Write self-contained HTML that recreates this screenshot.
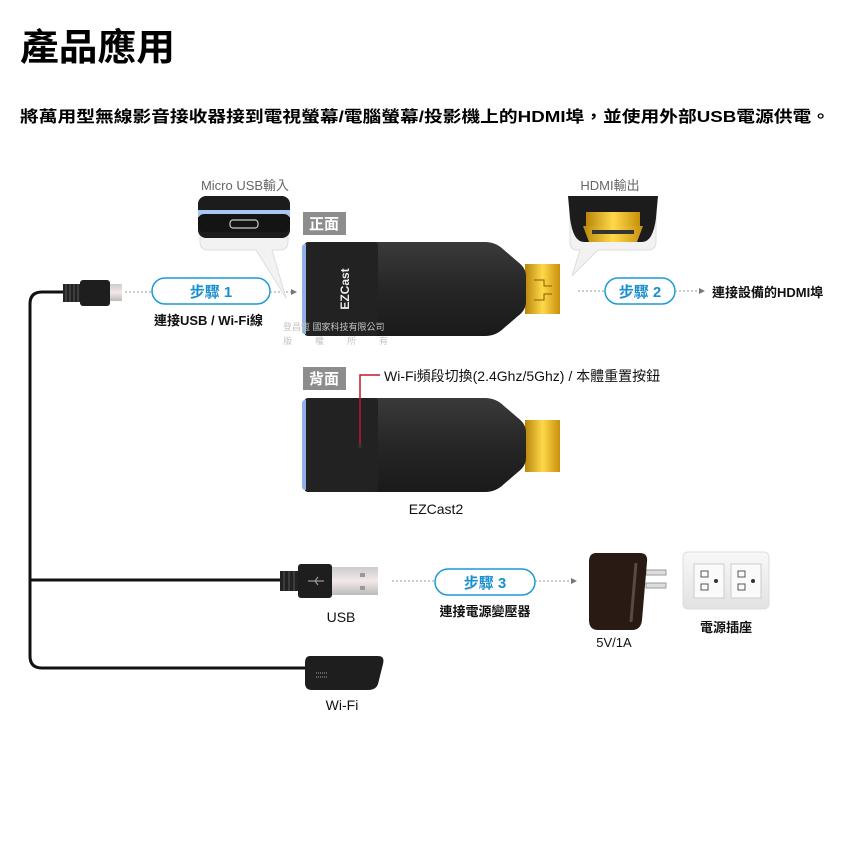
<!DOCTYPE html>
<html><head><meta charset="utf-8"><style>
html,body{margin:0;padding:0;background:#fff;width:850px;height:850px;overflow:hidden}
svg{display:block}
text{font-family:"Liberation Sans","Noto Sans CJK TC",sans-serif}
</style></head><body>
<svg width="850" height="850" viewBox="0 0 850 850" xmlns="http://www.w3.org/2000/svg">
<defs>
<linearGradient id="gold" x1="0" y1="0" x2="1" y2="0"><stop offset="0" stop-color="#b8860b"/><stop offset=".5" stop-color="#ffd84a"/><stop offset="1" stop-color="#c8900c"/></linearGradient>
<linearGradient id="silver" x1="0" y1="0" x2="0" y2="1"><stop offset="0" stop-color="#ccc"/><stop offset=".5" stop-color="#f4e8e8"/><stop offset="1" stop-color="#bbb"/></linearGradient>
<linearGradient id="body" x1="0" y1="0" x2="0" y2="1"><stop offset="0" stop-color="#3a3a3a"/><stop offset=".5" stop-color="#262626"/><stop offset="1" stop-color="#1a1a1a"/></linearGradient>
<linearGradient id="wall" x1="0" y1="0" x2="0" y2="1"><stop offset="0" stop-color="#f8f8f8"/><stop offset="1" stop-color="#e2e2e2"/></linearGradient>
</defs>
<text x="20" y="60" font-size="37" font-weight="bold" fill="#000" textLength="155" lengthAdjust="spacingAndGlyphs">產品應用</text>
<text x="20" y="122" font-size="16" font-weight="bold" fill="#000" textLength="810" lengthAdjust="spacingAndGlyphs">將萬用型無線影音接收器接到電視螢幕/電腦螢幕/投影機上的HDMI埠，並使用外部USB電源供電。</text>

<path d="M65 292 H42 Q30 292 30 304 V656 Q30 668 42 668 H305" fill="none" stroke="#111" stroke-width="3"/>
<path d="M30 580 H282" fill="none" stroke="#111" stroke-width="3"/>
<g>
<rect x="63" y="284" width="18" height="18" fill="#222"/>
<path d="M66 284v18M70 284v18M74 284v18M78 284v18" stroke="#555" stroke-width="1"/>
<rect x="80" y="280" width="30" height="26" rx="3" fill="#1e1e1e"/>
<rect x="110" y="284" width="12" height="17" fill="url(#silver)"/>
</g>
<path d="M125 292 H152" stroke="#999" stroke-dasharray="2 2"/>
<rect x="152" y="278" width="118" height="26" rx="13" fill="#fff" stroke="#1a9ad6" stroke-width="1.5"/>
<text x="211" y="297" font-size="15" font-weight="bold" fill="#1a8fd0" text-anchor="middle">步驟 1</text>
<path d="M270 292 H292" stroke="#999" stroke-dasharray="2 2"/><path d="M291 289 l6 3 -6 3z" fill="#777"/>
<text x="154" y="325" font-size="13" font-weight="bold" fill="#111">連接USB / Wi-Fi線</text>

<path d="M200 200 h88 v42 q0 8 -8 8 h-8 l14 48 -30 -48 h-48 q-8 0 -8 -8z" fill="#f2f2f2" stroke="#ddd"/>
<rect x="198" y="196" width="92" height="42" rx="8" fill="#1c1c1c"/>
<rect x="198" y="210" width="92" height="7" fill="#a8c6f0"/>
<rect x="198" y="214" width="92" height="18" rx="6" fill="#141414"/>
<rect x="230" y="220" width="28" height="8" rx="3" fill="none" stroke="#ccc" stroke-width="1.2"/>
<text x="245" y="190" font-size="13" fill="#666" text-anchor="middle">Micro USB輸入</text>

<rect x="303" y="212" width="43" height="23" fill="#8d8d8d"/>
<text x="324" y="229" font-size="15" font-weight="bold" fill="#fff" text-anchor="middle">正面</text>

<rect x="525" y="264" width="35" height="50" fill="url(#gold)"/>
<path d="M534 280h10v6h8M534 300h10v-6h8" stroke="#8a5a00" fill="none"/>
<path d="M308 242 H485 Q496 242 504 250 L518 262 Q526 268 526 276 V302 Q526 310 518 316 L504 328 Q496 336 485 336 H308 Q304 336 304 330 V248 Q304 242 308 242Z" fill="url(#body)"/>
<rect x="302" y="244" width="6" height="90" rx="3" fill="#8fb0e8"/>
<rect x="306" y="242" width="72" height="94" rx="3" fill="#222"/>
<text x="349" y="289" font-size="12" font-weight="bold" fill="#eee" text-anchor="middle" transform="rotate(-90 349 289)">EZCast</text>
<text x="283" y="330" font-size="9" fill="#c4c4c4">登昌恆 國家科技有限公司</text>
<text x="283" y="344" font-size="9" fill="#c4c4c4" textLength="105">版　 權 　所 　有</text>

<path d="M570 200 h86 v42 q0 8 -8 8 h-50 l-26 26 8 -26 h-2 q-8 0 -8 -8z" fill="#f2f2f2" stroke="#ddd"/>
<path d="M568 196 h90 l-2 22 q-3 24 -14 24 h-58 q-11 0 -14 -24z" fill="#1c1c1c"/>
<rect x="586" y="212" width="54" height="14" fill="url(#gold)"/>
<path d="M583 226 h60 l-6 16 h-48z" fill="url(#gold)"/>
<rect x="592" y="230" width="42" height="4" fill="#333"/>
<text x="610" y="190" font-size="13" fill="#666" text-anchor="middle">HDMI輸出</text>

<path d="M578 291 H605" stroke="#999" stroke-dasharray="2 2"/>
<rect x="605" y="278" width="70" height="26" rx="13" fill="#fff" stroke="#1a9ad6" stroke-width="1.5"/>
<text x="640" y="297" font-size="15" font-weight="bold" fill="#1a8fd0" text-anchor="middle">步驟 2</text>
<path d="M675 291 H700" stroke="#999" stroke-dasharray="2 2"/><path d="M699 288 l6 3 -6 3z" fill="#777"/>
<text x="712" y="297" font-size="13" font-weight="bold" fill="#111">連接設備的HDMI埠</text>

<rect x="303" y="367" width="43" height="23" fill="#8d8d8d"/>
<text x="324" y="384" font-size="15" font-weight="bold" fill="#fff" text-anchor="middle">背面</text>
<rect x="525" y="420" width="35" height="52" fill="url(#gold)"/>
<path d="M308 398 H485 Q496 398 504 406 L518 418 Q526 424 526 432 V458 Q526 466 518 472 L504 484 Q496 492 485 492 H308 Q304 492 304 486 V404 Q304 398 308 398Z" fill="url(#body)"/>
<rect x="302" y="400" width="6" height="90" rx="3" fill="#8fb0e8"/>
<rect x="306" y="398" width="72" height="94" rx="3" fill="#222"/>
<path d="M360 445 V375 H380" stroke="#c0182c" stroke-width="1.5" fill="none"/>
<circle cx="360" cy="446" r="2" fill="#333"/>
<text x="384" y="381" font-size="14" fill="#111">Wi-Fi頻段切換(2.4Ghz/5Ghz) / 本體重置按鈕</text>
<text x="436" y="514" font-size="14" fill="#111" text-anchor="middle">EZCast2</text>

<rect x="280" y="571" width="20" height="20" fill="#222"/>
<path d="M284 571v20M289 571v20M294 571v20" stroke="#555"/>
<rect x="298" y="564" width="34" height="34" rx="3" fill="#1e1e1e"/>
<path d="M308 581 h16 M318 577 l-3 4 M318 585 l-3 -4" stroke="#999" stroke-width="1.2" fill="none"/>
<rect x="332" y="567" width="46" height="28" fill="url(#silver)"/>
<rect x="360" y="573" width="5" height="4" fill="#999"/><rect x="360" y="586" width="5" height="4" fill="#999"/>
<text x="341" y="622" font-size="14" fill="#111" text-anchor="middle">USB</text>

<path d="M392 581 H435" stroke="#999" stroke-dasharray="2 2"/>
<rect x="435" y="569" width="100" height="26" rx="13" fill="#fff" stroke="#1a9ad6" stroke-width="1.5"/>
<text x="485" y="588" font-size="15" font-weight="bold" fill="#1a8fd0" text-anchor="middle">步驟 3</text>
<path d="M535 581 H572" stroke="#999" stroke-dasharray="2 2"/><path d="M571 578 l6 3 -6 3z" fill="#777"/>
<text x="485" y="616" font-size="13" font-weight="bold" fill="#111" text-anchor="middle">連接電源變壓器</text>

<path d="M310 656 H378 Q385 656 383 664 L378 684 Q376 690 368 690 H312 Q305 690 305 683 V663 Q305 656 310 656Z" fill="#1e1e1e"/>
<path d="M316 673h12M316 677h12" stroke="#aaa" stroke-dasharray="1 1"/>
<text x="342" y="710" font-size="14" fill="#111" text-anchor="middle">Wi-Fi</text>

<path d="M646 570 h20 v5 h-20z M646 583 h20 v5 h-20z" fill="#ddd" stroke="#999"/>
<path d="M596 553 H640 Q648 553 647 562 L642 620 Q641 630 632 630 H598 Q589 630 589 620 V562 Q589 553 596 553Z" fill="#2a1a14"/>
<path d="M636 563 L631 622" stroke="#5a4a44" stroke-width="3"/>
<text x="614" y="647" font-size="13" fill="#111" text-anchor="middle">5V/1A</text>

<rect x="683" y="552" width="86" height="57" rx="5" fill="url(#wall)" stroke="#ddd"/>
<rect x="694" y="564" width="30" height="34" fill="#fafafa" stroke="#ccc"/>
<rect x="731" y="564" width="30" height="34" fill="#fafafa" stroke="#ccc"/>
<rect x="701" y="571" width="7" height="6" fill="none" stroke="#555"/><rect x="701" y="584" width="7" height="6" fill="none" stroke="#555"/><circle cx="716" cy="581" r="2" fill="#333"/>
<rect x="738" y="571" width="7" height="6" fill="none" stroke="#555"/><rect x="738" y="584" width="7" height="6" fill="none" stroke="#555"/><circle cx="753" cy="581" r="2" fill="#333"/>
<text x="726" y="632" font-size="13" font-weight="bold" fill="#111" text-anchor="middle">電源插座</text>
</svg>
</body></html>
